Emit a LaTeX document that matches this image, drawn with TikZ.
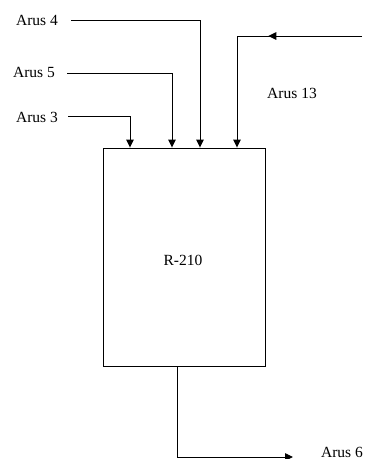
\documentclass[tikz,border=0pt]{standalone}
\usepackage{fontspec}
\setmainfont{Liberation Serif}
\usetikzlibrary{arrows.meta,decorations.markings}
\begin{document}
\begin{tikzpicture}[x=1pt,y=-1pt,
  flow/.style={line width=0.9pt,-{Triangle[length=8pt,width=7.5pt]}},
  lbl/.style={font=\fontsize{15.5}{18}\selectfont,inner sep=0pt},
  midarrow/.style={line width=0.9pt,decoration={markings,mark=at position 0.75 with {\arrow{Triangle[length=8pt,width=7.5pt]}}},postaction={decorate}}]
\useasboundingbox (0,0) rectangle (369,459);
\node[draw,line width=0.9pt,minimum width=162pt,minimum height=218pt,inner sep=0pt] (r) at (184,257) {};
\node[lbl] (rl) at (183,260) {R-210};
\node[lbl] (a4) at (37,20) {Arus 4};
\node[lbl] (a5) at (34,72) {Arus 5};
\node[lbl] (a3) at (37,117) {Arus 3};
\node[lbl] (a13) at (292,93) {Arus 13};
\node[lbl] (a6) at (342,452) {Arus 6};
\coordinate (s4) at (71,20);
\coordinate (s5) at (67,73);
\coordinate (s3) at (68,116);
\coordinate (s13) at (362,36);
\coordinate (e6) at (293,457);
\draw[flow] (s4) -| (r.north -| 200,0);
\draw[flow] (s5) -| (r.north -| 172,0);
\draw[flow] (s3) -| (r.north -| 130,0);
\draw[midarrow] (s13) -- (237,36);
\draw[flow] (237,36) -- (r.north -| 237,0);
\draw[flow] (r.south -| 177,0) |- (e6);
\end{tikzpicture}
\end{document}
